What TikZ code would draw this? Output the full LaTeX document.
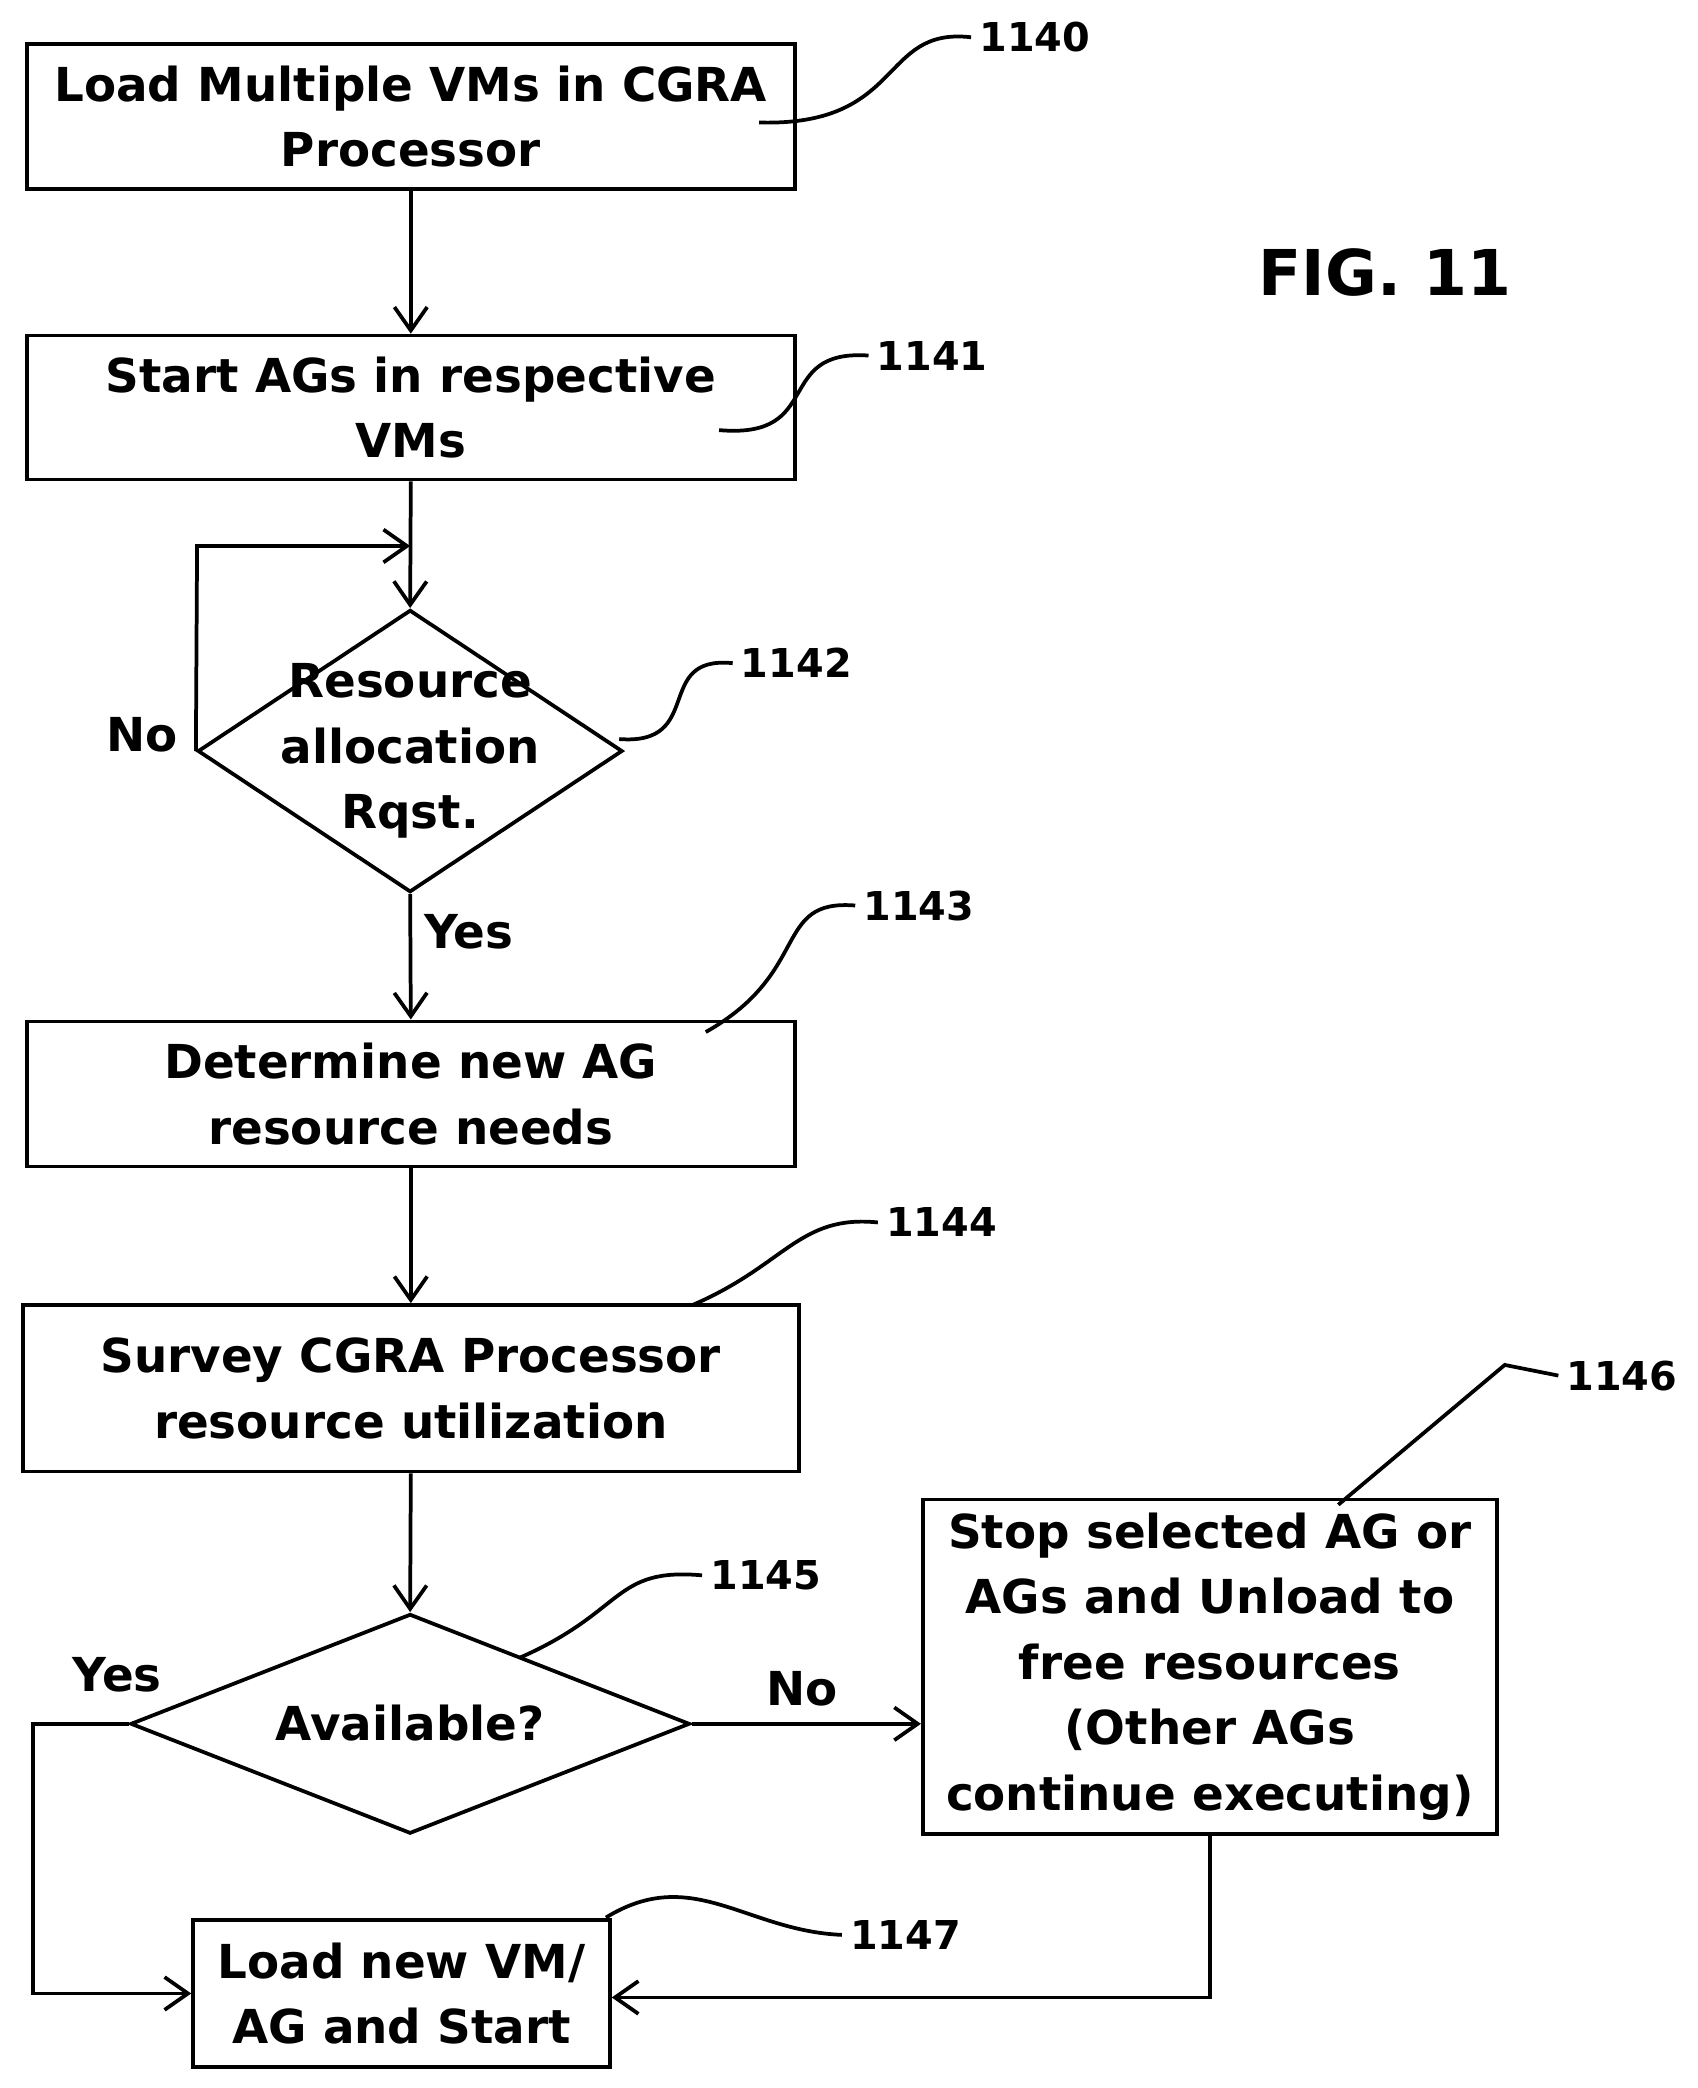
\documentclass[tikz,border=0pt]{standalone}
\usepackage{fontspec}
\setmainfont{DejaVu Sans}
\usetikzlibrary{shapes.geometric,arrows.meta}
\begin{document}
\begin{tikzpicture}[x=0.02cm,y=-0.02cm,
  every node/.style={font=\bfseries\fontsize{20}{28}\selectfont, align=center},
  box/.style={draw, line width=1.6pt, inner sep=0pt},
  dia/.style={draw, diamond, line width=1.6pt, inner sep=0pt},
  lbl/.style={font=\bfseries\fontsize{17}{20}\selectfont},
  ln/.style={line width=1.6pt},
  arr/.style={line width=1.6pt, -{Straight Barb[length=10pt,width=14pt,line width=1.6pt]}}]
\useasboundingbox (0,0) rectangle (1275,1568);
\node[box, minimum width=577*0.02cm, minimum height=109*0.02cm] (b0) at (308.5,87.5) {Load Multiple VMs in CGRA\\Processor};
\node[box, minimum width=577*0.02cm, minimum height=108*0.02cm] (b1) at (308.5,306) {Start AGs in respective\\VMs};
\node[dia, minimum width=319*0.02cm, minimum height=212*0.02cm] (d2) at (308,564) {};
\node at (308,564) {Resource\\allocation\\Rqst.};
\node[box, minimum width=577*0.02cm, minimum height=109*0.02cm] (b3) at (308.5,821.5) {Determine new AG\\resource needs};
\node[box, minimum width=583*0.02cm, minimum height=125*0.02cm] (b4) at (308.5,1042.5) {Survey CGRA Processor\\resource utilization};
\node[dia, minimum width=420*0.02cm, minimum height=165*0.02cm] (d5) at (308,1294.5) {};
\node at (308,1294) {Available?};
\node[box, minimum width=431*0.02cm, minimum height=251*0.02cm] (b6) at (908.5,1251.5) {Stop selected AG or\\AGs and Unload to\\free resources\\(Other AGs\\continue executing)};
\node[box, minimum width=313*0.02cm, minimum height=110*0.02cm] (b7) at (301.5,1497) {Load new VM/\\AG and Start};
\node[font=\bfseries\fontsize{27}{30}\selectfont] (fig) at (1040,205) {FIG. 11};
% labels
\node[lbl] (l0) at (777,28) {1140};
\node[lbl] (l1) at (700,267) {1141};
\node[lbl] (l2) at (598,498) {1142};
\node[lbl] (l3) at (690,680) {1143};
\node[lbl] (l4) at (707,918) {1144};
\node[lbl] (l5) at (575,1183) {1145};
\node[lbl] (l6) at (1218,1033) {1146};
\node[lbl] (l7) at (680,1453) {1147};
\node (no1) at (107,552) {No};
\node (yes1) at (352,700) {Yes};
\node (yes2) at (88,1258) {Yes};
\node (no2) at (602,1268) {No};
% leaders
\draw[ln] (570,92) .. controls (680,95) and (660,20) .. (l0.west);
\draw[ln] (540,323) .. controls (620,330) and (580,262) .. (l1.west);
\draw[ln] (465,555) .. controls (530,560) and (490,492) .. (l2.west);
\draw[ln] (530,775) .. controls (610,730) and (580,675) .. (l3.west);
\draw[ln] (520,980) .. controls (590,950) and (600,912) .. (l4.west);
\draw[ln] (390,1245) .. controls (470,1210) and (460,1177) .. (l5.west);
\draw[ln] (1005,1130) -- (1130,1025) -- (l6.west);
\draw[ln] (455,1440) .. controls (520,1400) and (560,1450) .. (l7.west);
% connectors
\draw[arr] (b0.south) -- (b1.north);
\draw[arr] (b1.south) -- (d2.north);
\draw[arr] (d2.west) -- (148,410) -- (308,410);
\draw[arr] (d2.south) -- (b3.north);
\draw[arr] (b3.south) -- (b4.north);
\draw[arr] (b4.south) -- (d5.north);
\draw[arr] (d5.east) -- (b6.west |- d5.east);
\draw[arr] (d5.west) -- (25,1294.5) -- (25,1497) -- (b7.west);
\draw[arr] (b6.south) -- (908.5,1500) -- (b7.east |- 0,1500);
\end{tikzpicture}
\end{document}
